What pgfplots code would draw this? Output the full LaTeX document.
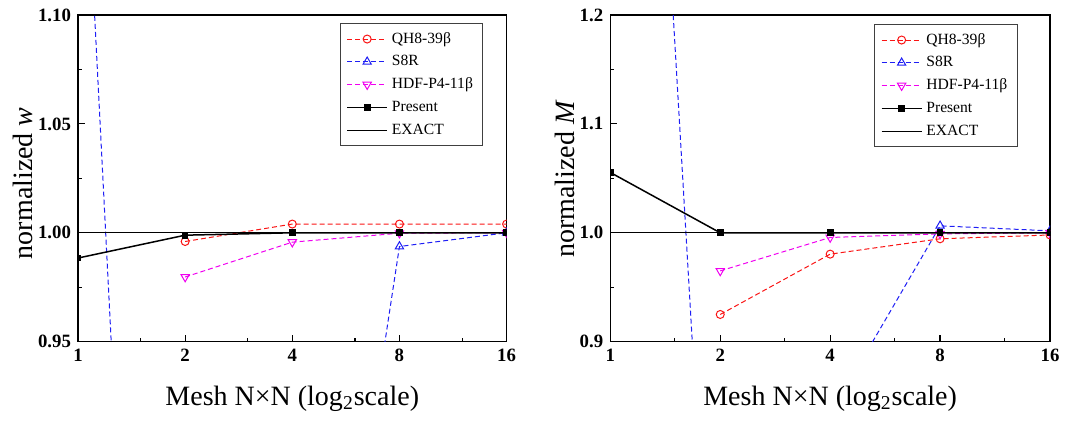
\documentclass[border=0pt]{standalone}
\usepackage{fontspec}
\setmainfont{Liberation Serif}
\usepackage{pgfplots}
\pgfplotsset{compat=1.18}
\definecolor{cred}{RGB}{250,20,20}
\definecolor{cblue}{RGB}{30,30,245}
\definecolor{cmag}{RGB}{240,0,240}
\pgfplotsset{
  myaxis/.style={
    scale only axis, height=163.35pt,
    xmin=0, xmax=4,
    xtick={0,1,2,3,4}, xticklabels={1,2,4,8,16},
    minor xtick={0.585,1.585,2.585,3.585},
    tick align=inside, xtick pos=bottom, ytick pos=left,
    major tick length=3.5pt, minor tick length=2pt,
    axis line style={line width=0.8pt},
    every tick/.style={black, line width=0.6pt},
    ticklabel style={font=\fontsize{9.4}{10}\selectfont\bfseries},
    label style={font=\fontsize{14}{16}\selectfont},
    xlabel={Mesh N×N (log\textsubscript{2}scale)},
    xlabel style={at={(axis description cs:0.5,-0.175)}, anchor=center},
    clip marker paths=true,
    legend cell align=left,
    legend style={draw=darkgray, line width=0.5pt,
      font=\fontsize{7.8}{9}\selectfont,
      nodes={text height=5.5pt, text depth=1.5pt, inner ysep=2.2pt},
      row sep=0pt},
    legend image code/.code={\draw[mark repeat=2,mark phase=2] plot coordinates {(0pt,0pt) (10pt,0pt) (20pt,0pt)};},
  },
  qh/.style={cred, line width=0.5pt, dash pattern=on 2.5pt off 1.5pt, mark=o, mark size=2pt, mark options={solid}},
  s8/.style={cblue, line width=0.5pt, dash pattern=on 2.5pt off 1.5pt, mark=triangle, mark size=2.4pt, mark options={solid}},
  hd/.style={cmag, line width=0.5pt, dash pattern=on 2.5pt off 1.5pt, mark=triangle, mark size=2.4pt, mark options={solid, rotate=180}},
  pr/.style={black, line width=0.75pt, mark=square*, mark size=1.3pt, mark options={solid}},
  ex/.style={black, line width=0.5pt, no marks},
}
\begin{document}
\begin{tikzpicture}
\useasboundingbox (0,0) rectangle (534.5pt,211.5pt);
\begin{axis}[myaxis,
  at={(39pt,40.65pt)}, anchor=south west, width=214.3pt,
  ymin=0.95, ymax=1.10,
  ytick={0.95,1.00,1.05,1.10}, yticklabels={0.95,1.00,1.05,1.10},
  minor ytick={0.975,1.025,1.075},
  ylabel={normalized \textit{w}},
  ylabel style={at={(axis description cs:-0.128,0.485)}, anchor=center},
  legend style={at={(0.946,0.975)}, anchor=north east},
]
\addplot[qh] coordinates {(1,0.996)(2,1.004)(3,1.004)(4,1.004)};
\addlegendentry{QH8-39β}
\addplot[s8] coordinates {(0,1.25)(1,0.282)(2,0.670)(3,0.9937)(4,1.000)};
\addlegendentry{S8R}
\addplot[hd] coordinates {(1,0.9797)(2,0.9957)(3,0.9998)(4,1.000)};
\addlegendentry{HDF-P4-11β}
\addplot[pr] coordinates {(0,0.9884)(1,0.9989)(2,1.000)(3,1.000)(4,1.000)};
\addlegendentry{Present}
\addplot[ex] coordinates {(0,1)(4,1)};
\addlegendentry{EXACT}
\end{axis}
\begin{axis}[myaxis,
  at={(305.15pt,40.65pt)}, anchor=south west, width=219.85pt,
  ymin=0.9, ymax=1.2,
  ytick={0.9,1.0,1.1,1.2}, yticklabels={0.9,1.0,1.1,1.2},
  minor ytick={0.95,1.05,1.15},
  ylabel={normalized \textit{M}},
  ylabel style={at={(axis description cs:-0.104,0.498)}, anchor=center},
  legend style={at={(0.927,0.972)}, anchor=north east},
]
\addplot[qh] coordinates {(1,0.925)(2,0.9804)(3,0.9945)(4,0.998)};
\addlegendentry{QH8-39β}
\addplot[s8] coordinates {(0,2.19)(1,0.46)(2,0.833)(3,1.0064)(4,1.0018)};
\addlegendentry{S8R}
\addplot[hd] coordinates {(1,0.965)(2,0.9957)(3,0.999)(4,1.000)};
\addlegendentry{HDF-P4-11β}
\addplot[pr] coordinates {(0,1.0554)(1,1.000)(2,1.000)(3,1.000)(4,1.000)};
\addlegendentry{Present}
\addplot[ex] coordinates {(0,1)(4,1)};
\addlegendentry{EXACT}
\end{axis}
\end{tikzpicture}
\end{document}
